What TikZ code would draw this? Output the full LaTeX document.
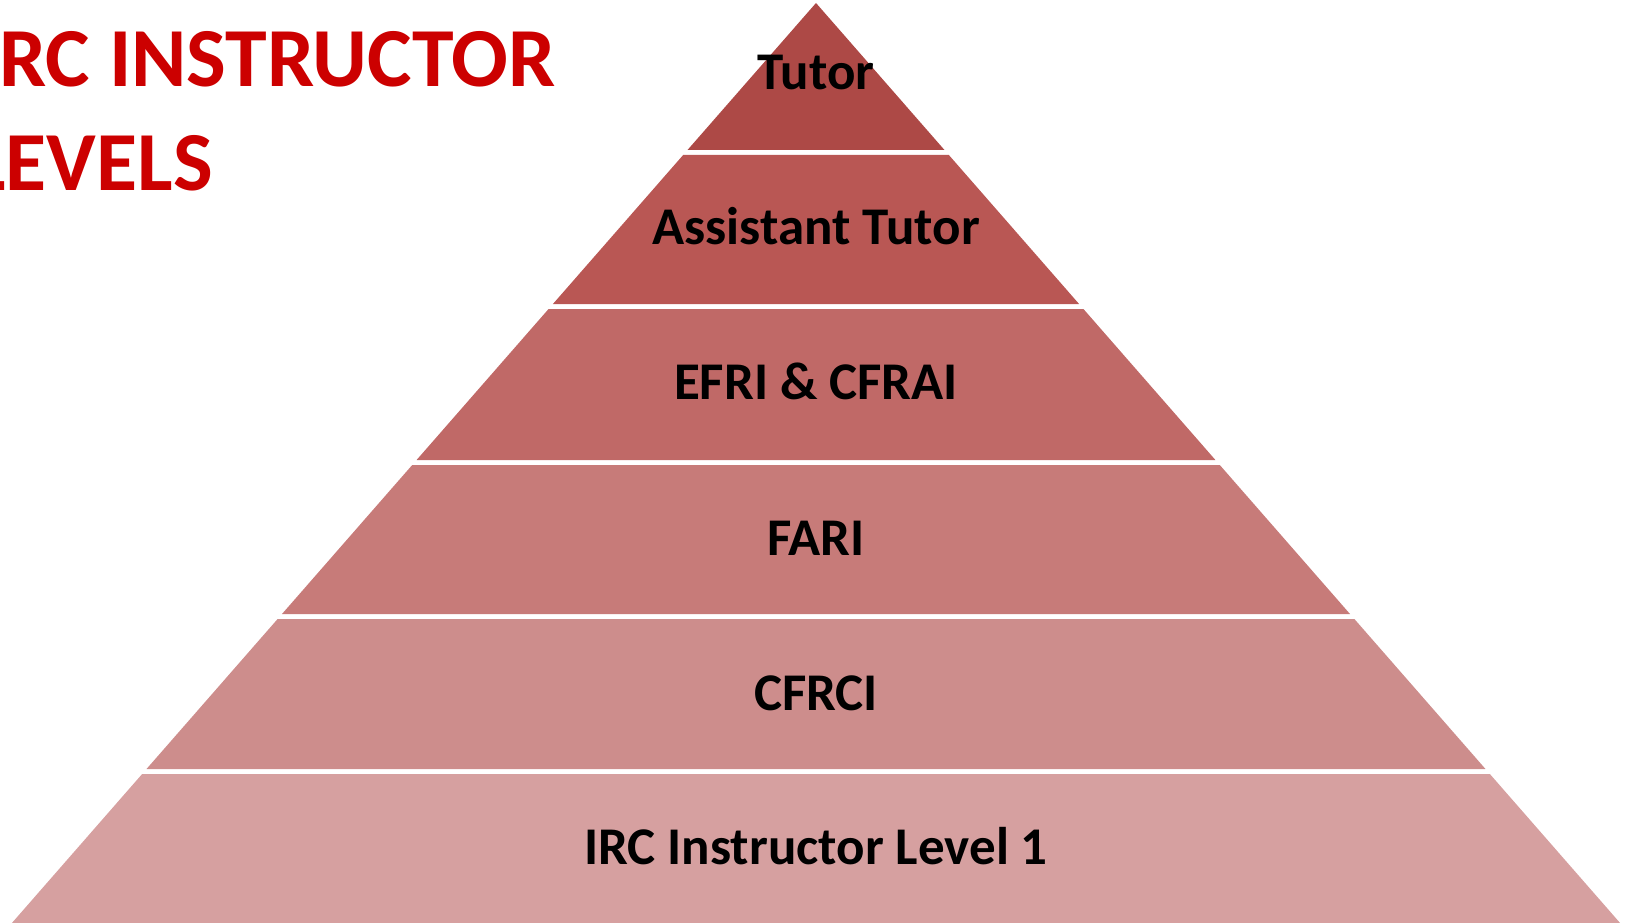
\documentclass[tikz,border=0pt]{standalone}
\usepackage{fontspec}
\setmainfont{Carlito}
\definecolor{c0}{RGB}{173,73,70}
\definecolor{c1}{RGB}{185,87,84}
\definecolor{c2}{RGB}{192,105,103}
\definecolor{c3}{RGB}{199,123,121}
\definecolor{c4}{RGB}{205,141,140}
\definecolor{c5}{RGB}{214,160,160}
\definecolor{titlered}{RGB}{204,0,0}
\begin{document}
\begin{tikzpicture}[x=1pt,y=-1pt,
  lvl/.style={font=\bfseries\fontsize{53}{60}\selectfont, text=black, inner sep=0pt, anchor=base},
  ttl/.style={font=\bfseries\fontsize{84}{100}\selectfont, text=titlered, inner sep=0pt, anchor=base east}]
\useasboundingbox (0,0) rectangle (1626,923);
\foreach \yt/\yb/\c in {3/150/c0, 155/304/c1, 309/460/c2, 465/614/c3, 619/769/c4, 774/923/c5}{
  \pgfmathsetmacro{\ht}{0.874*(\yt-3)}
  \pgfmathsetmacro{\hb}{0.874*(\yb-3)}
  \fill[\c] (816-\ht,\yt) -- (816+\ht,\yt) -- (816+\hb,\yb) -- (816-\hb,\yb) -- cycle;
}
\node[lvl] (tutor) at (816,90) {Tutor};
\node[lvl] (asst) at (816,244) {Assistant Tutor};
\node[lvl] (efri) at (816,399) {EFRI \& CFRAI};
\node[lvl] (fari) at (816,555) {FARI};
\node[lvl] (cfrci) at (816,710) {CFRCI};
\node[lvl] (irc1) at (816,864) {IRC Instructor Level 1};
\node[ttl] (title1) at (556,87) {IRC INSTRUCTOR};
\node[ttl] (title2) at (213,190) {LEVELS};
\end{tikzpicture}
\end{document}
